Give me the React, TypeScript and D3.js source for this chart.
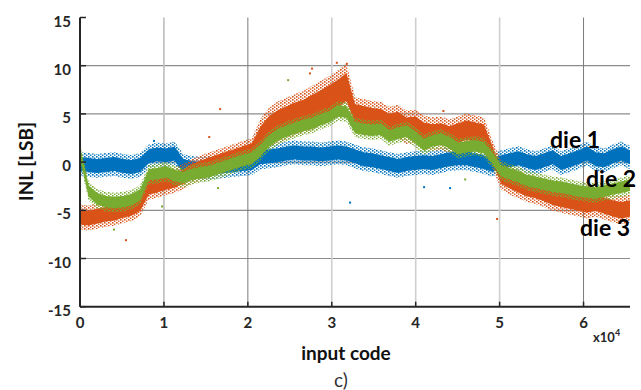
import * as d3 from 'd3'

const W = 641
const H = 390
const M = { top: 17.5, right: 11, bottom: 83.3, left: 80 }

const CODE_STEP = 1024
const X_TICKS = [0, 1, 2, 3, 4, 5, 6]
const Y_TICKS = [-15, -10, -5, 0, 5, 10, 15]
const Y_GRID = [-10, -5, 0, 5, 10]
const X_GRID_TONE = ['', '#bdbdbd', '#7a7a7a', '#cfcfcf', '#cfcfcf', '#cfcfcf', '#7a7a7a']

// INL readings every 1024 codes
const DIE1 = [
  -0.2, -0.3, -0.4, -0.3, -0.2, -0.4, -0.5, -0.3,
  0.6, 0.8, 0.7, 0.9,
  -0.4, -0.6, -0.7, -0.6, -0.5, -0.4, -0.3, -0.2, -0.1,
  0.5, 0.6, 0.7, 0.9, 1.0, 0.9, 0.9, 0.8, 0.9, 1.0, 0.9,
  0.6, 0.3, 0.2, 0.0, -0.2, -0.4, -0.2, -0.1, 0.0, -0.1, 0.1, 0.3,
  0.4, 0.4, 0.2, 0.0, -0.3, 0.0, 0.2, 0.4, 0.1, -0.1, 0.2, 0.5, -0.1, 0.2, 0.5, 0.9, 0.3, 0.2, 0.6, 0.9, 0.5,
]
const DIE2 = [
  1.0, -3.0, -3.8, -4.1, -4.2, -4.1, -3.9, -3.4,
  -1.3, -1.2, -1.0, -1.4,
  -1.6, -1.3, -1.1, -1.0, -0.7, -0.4, -0.1, 0.2, 0.4,
  1.2, 2.2, 2.8, 3.2, 3.5, 3.8, 4.0, 4.4, 4.7, 5.3, 5.2,
  3.6, 3.4, 3.3, 3.4, 2.7, 3.0, 3.2, 2.6, 1.8, 2.2, 2.4, 2.0,
  1.4, 1.6, 1.7, 1.5, 0.4, -0.9, -1.2, -1.5, -1.9, -2.1, -2.3, -2.5, -2.6, -2.8, -3.0, -3.1, -3.2, -3.0, -2.8, -2.6, -2.4,
]
const DIE3 = [
  -5.7, -5.8, -5.6, -5.4, -5.3, -5.0, -4.8, -4.3,
  -2.6, -2.4, -2.1, -1.9,
  -1.5, -1.0, -0.6, -0.3, 0.0, 0.3, 0.6, 0.9, 1.2,
  2.6, 3.6, 4.1, 4.5, 4.9, 5.2, 5.6, 6.1, 6.6, 7.1, 7.8,
  5.0, 4.8, 4.6, 4.5, 4.0, 4.2, 3.6, 3.7, 3.1, 2.9, 3.0, 2.7,
  3.0, 3.3, 3.1, 2.9, 0.8, -1.4, -1.9, -2.3, -2.7, -2.9, -3.2, -3.6, -3.8, -4.0, -4.2, -4.4, -4.2, -4.5, -4.8, -5.0, -4.8,
]
// half width of each noise cloud (LSB)
const DIE1_SPREAD = [0.85]
const DIE2_SPREAD = [0.7]
const DIE3_SPREAD = [
  0.9, 0.9, 0.9, 0.9, 0.9, 0.9, 0.9, 0.9, 0.9, 0.9, 0.9, 0.9, 0.9, 0.9, 0.9, 0.9, 0.9, 0.9, 0.9, 0.9, 0.9,
  1.3, 1.4, 1.5, 1.5, 1.5, 1.5, 1.6, 1.6, 1.6, 1.7, 1.7,
  1.2, 1.2, 1.2, 1.2, 1.2, 1.2, 1.2, 1.2, 1.2, 1.2, 1.2, 1.2, 1.2, 1.2, 1.2, 1.2,
  1.0, 1.0, 1.0, 1.0, 1.0, 1.0, 1.0, 1.0, 1.0, 1.0, 1.0, 1.0, 1.0, 1.0, 1.0, 1.0, 1.0,
]

// stray samples [code, INL]
const DIE1_OUT = [[0, 6.7], [0, 5.0], [0, 2.4], [8820, 2.2], [32180, -4.2], [41000, -2.6], [44100, -2.7]]
const DIE2_OUT = [[0, 8.2], [0, 3.0], [24800, 8.5], [4050, -7.0], [9770, -4.6], [16450, -2.7], [45900, -1.8]]
const DIE3_OUT = [[5480, -8.1], [16700, 5.5], [15400, 2.6], [30600, 10.3], [31800, 10.2], [27400, 9.2], [27650, 9.7], [49700, -5.9], [43300, 5.3]]

const SERIES = [
  { id: 'd1', name: 'die 1', values: DIE1, spread: DIE1_SPREAD, out: DIE1_OUT, color: '#0072BD' },
  { id: 'd3', name: 'die 3', values: DIE3, spread: DIE3_SPREAD, out: DIE3_OUT, color: '#D95319' },
  { id: 'd2', name: 'die 2', values: DIE2, spread: DIE2_SPREAD, out: DIE2_OUT, color: '#77AC30' },
]

const LABELS = [
  { text: 'die 1', x: 550, y: 148 },
  { text: 'die 2', x: 586, y: 187 },
  { text: 'die 3', x: 580, y: 236 },
]

const FONT = 'Lato, "Open Sans", sans-serif'

export default function App() {
  const x = d3.scaleLinear().domain([0, 65536]).range([M.left, W - M.right])
  const y = d3.scaleLinear().domain([-15, 15]).range([H - M.bottom, M.top])
  const x0 = x.range()[0], x1 = x.range()[1]
  const y0 = y.range()[0], y1 = y.range()[1]

  // cloud outline: k scales the spread (core vs speckled fringe)
  const band = (s, k) => {
    const pts = s.values.map((v, i) => ({ c: i * CODE_STEP, v, h: (s.spread[i] ?? s.spread[0]) * k }))
    return d3.area()
      .x(d => x(d.c))
      .y0(d => y(d.v - d.h))
      .y1(d => y(d.v + d.h))
      .curve(d3.curveLinear)(pts)
  }

  return (
    <svg width={W} height={H} style={{ position: 'absolute', left: 0, top: 0, background: '#fff' }}
      fontFamily={FONT}>
      <defs>
        {SERIES.map(s => (
          <pattern key={s.id} id={'dots-' + s.id} width={4} height={3} patternUnits="userSpaceOnUse">
            <rect x={0} y={0} width={1.6} height={1.6} fill={s.color} />
            <rect x={2} y={1.5} width={1.4} height={1.4} fill={s.color} />
          </pattern>
        ))}
      </defs>

      {/* grid */}
      {Y_GRID.map(t => (
        <line key={'hy' + t} x1={x0} x2={x1} y1={y(t)} y2={y(t)} stroke="#8c8c8c" strokeWidth={1.2} />
      ))}
      {X_TICKS.filter(t => t > 0).map(t => (
        <line key={'gx' + t} x1={x(t * 1e4)} x2={x(t * 1e4)} y1={y1} y2={y0}
          stroke={X_GRID_TONE[t]} strokeWidth={t === 2 || t === 6 ? 1 : 1.6} />
      ))}

      {/* data clouds */}
      {SERIES.map(s => (
        <g key={s.name}>
          <path d={band(s, 1.45)} fill={`url(#dots-${s.id})`} />
          <path d={band(s, 0.85)} fill={s.color} />
          {s.out.map(([c, v], i) => (
            <rect key={i} x={x(c) - 1} y={y(v) - 1} width={2} height={2} fill={s.color} />
          ))}
        </g>
      ))}

      {/* axes */}
      <line x1={x0} x2={x0} y1={y1} y2={y0} stroke="#262626" strokeWidth={2} />
      <line x1={x0} x2={x1} y1={y0} y2={y0} stroke="#262626" strokeWidth={2} />
      {Y_TICKS.map(t => (
        <g key={'yt' + t}>
          <line x1={x0} x2={x0 + 6} y1={y(t)} y2={y(t)} stroke="#262626" strokeWidth={1.5} />
          <text x={71} y={y(t) + 9} textAnchor="end" fontSize={15} fontWeight="bold" fill="#262626">{t}</text>
        </g>
      ))}
      {X_TICKS.map(t => (
        <g key={'xt' + t}>
          <line x1={x(t * 1e4)} x2={x(t * 1e4)} y1={y0} y2={y0 - 5} stroke="#262626" strokeWidth={1.5} />
          <text x={x(t * 1e4)} y={328} textAnchor="middle" fontSize={15} fontWeight="bold" fill="#262626">{t}</text>
        </g>
      ))}
      <text x={593} y={342} fontSize={13} fontWeight="bold" fill="#262626">x10<tspan dy={-6} fontSize={9}>4</tspan></text>

      <text x={346} y={360} textAnchor="middle" fontSize={19} fontWeight="bold" fill="#111">input code</text>
      <text x={341} y={387} textAnchor="middle" fontSize={19} fill="#333">c)</text>
      <text transform="translate(33,161.5) rotate(-90)" textAnchor="middle" fontSize={19} fontWeight="bold" fill="#111">INL [LSB]</text>

      {LABELS.map(l => (
        <text key={l.text} x={l.x} y={l.y} fontSize={23} fontWeight="bold" fill="#000">{l.text}</text>
      ))}
    </svg>
  )
}
